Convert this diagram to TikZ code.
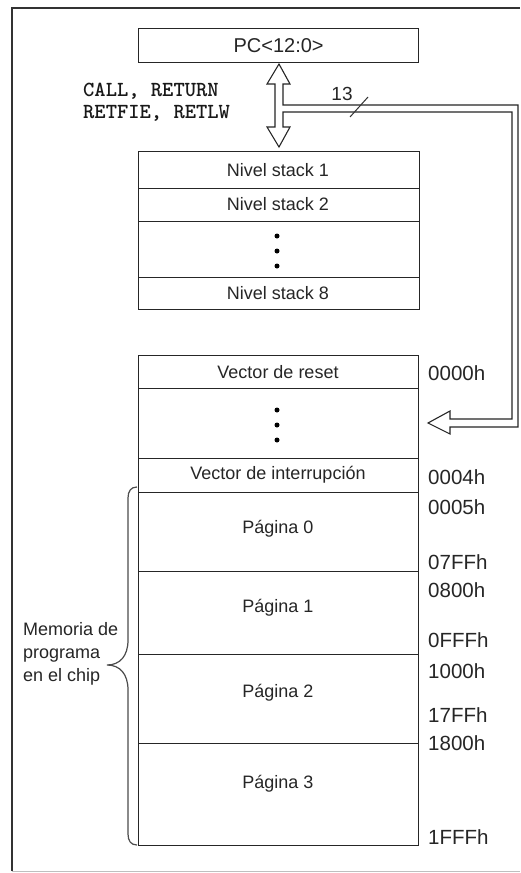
\documentclass[tikz,border=0pt]{standalone}
\usepackage{fontspec}
\setmainfont{Liberation Sans}
\begin{document}
\begin{tikzpicture}[x=1pt,y=-1pt,
  cell/.style={draw=black!85, line width=1.2pt, inner sep=0pt, anchor=north west},
  lbl/.style={text=black!85, font=\fontsize{18}{20}\selectfont, inner sep=0pt},
  addr/.style={text=black!85, font=\fontsize{20.5}{22}\selectfont, inner sep=0pt, anchor=west},
  code/.style={text=black!90, font=\ttfamily\bfseries\fontsize{21.5}{23}\selectfont, inner sep=0pt, anchor=west},
  dot/.style={fill=black, draw=none, circle, minimum size=5pt, inner sep=0pt},
  bus/.style={draw=black!85, line width=1.1pt, line join=miter}]
\useasboundingbox (0,0) rectangle (520,873);
\fill[white] (0,0) rectangle (520,873);

% outer frame
\draw[black!80, line width=1.2pt] (12,871) -- (12,8) -- (520,8);
\draw[black!25, line width=1pt] (12,871.5) -- (520,871.5);

% program counter
\node[cell, minimum width=280pt, minimum height=34pt] (pc) at (138,28) {};
\node[lbl, font=\fontsize{20}{22}\selectfont] (pct) at (pc.center) {PC<12:0>};

% stack levels
\node[cell, minimum width=281pt, minimum height=37pt] (s1) at (138,151) {};
\node[cell, minimum width=281pt, minimum height=33pt] (s2) at (138,188) {};
\node[cell, minimum width=281pt, minimum height=56pt] (s3) at (138,221) {};
\node[cell, minimum width=281pt, minimum height=32pt] (s8) at (138,277) {};
\node[lbl] (s1t) at (278,170) {Nivel stack 1};
\node[lbl] (s2t) at (278,204) {Nivel stack 2};
\node[lbl] (s8t) at (278,293) {Nivel stack 8};
\node[dot] (sd1) at (277,236) {};
\node[dot] (sd2) at (277,251) {};
\node[dot] (sd3) at (277,266) {};

% program memory
\node[cell, minimum width=280pt, minimum height=33pt] (m0) at (138,355) {};
\node[cell, minimum width=280pt, minimum height=70pt] (m1) at (138,388) {};
\node[cell, minimum width=280pt, minimum height=34pt] (m4) at (138,458) {};
\node[cell, minimum width=280pt, minimum height=79pt] (p0) at (138,492) {};
\node[cell, minimum width=280pt, minimum height=83pt] (p1) at (138,571) {};
\node[cell, minimum width=280pt, minimum height=89pt] (p2) at (138,654) {};
\node[cell, minimum width=280pt, minimum height=102pt] (p3) at (138,743) {};
\node[lbl] (m0t) at (278,372) {Vector de reset};
\node[lbl] (m4t) at (278,475) {Vector de interrupción};
\node[lbl] (p0t) at (278,529) {Página 0};
\node[lbl] (p1t) at (278,608) {Página 1};
\node[lbl] (p2t) at (278,693) {Página 2};
\node[lbl] (p3t) at (278,784) {Página 3};
\node[dot] (md1) at (277,410) {};
\node[dot] (md2) at (277,425) {};
\node[dot] (md3) at (277,440) {};

% addresses
\node[addr] (a0) at (428,373) {0000h};
\node[addr] (a4) at (428,477) {0004h};
\node[addr] (a5) at (428,507) {0005h};
\node[addr] (a7) at (428,562) {07FFh};
\node[addr] (a8) at (428,590) {0800h};
\node[addr] (af) at (428,640) {0FFFh};
\node[addr] (b0) at (428,671) {1000h};
\node[addr] (b7) at (428,715) {17FFh};
\node[addr] (b8) at (428,743) {1800h};
\node[addr] (bf) at (428,837) {1FFFh};

% instructions using the stack
\node[code] (c1) at (83,91) {CALL, RETURN};
\node[code] (c2) at (83,113) {RETFIE, RETLW};

% hollow double arrow between PC and stack, with the 13-bit bus to memory
\draw[bus]
  (279,64) -- (290,84) -- (283,84) -- (283,105) -- (518,105) -- (518,427)
  -- (450,427) -- (450,434) -- (428,423) -- (450,411) -- (450,419)
  -- (512,419) -- (512,112) -- (283,112) -- (283,127) -- (290,127)
  -- (279,147) -- (267,127) -- (275,127) -- (275,84) -- (267,84) -- cycle;
\node[text=black!85, font=\fontsize{19}{21}\selectfont, inner sep=0pt] (w13) at (342,94) {13};
\draw[black!80, line width=1pt] (350,117) -- (368,97);

% brace for the on-chip program memory
\draw[black!70, line width=1.2pt]
  (137,487) .. controls (131,487) and (128,491) .. (128,498) -- (128,640)
  .. controls (128,656) and (120,665) .. (107,665)
  .. controls (120,665) and (128,674) .. (128,690) -- (128,834)
  .. controls (128,841) and (131,845) .. (137,845);
\node[text=black!85, font=\fontsize{18}{20}\selectfont, inner sep=0pt, anchor=west, align=left] (mem) at (23,654)
  {Memoria de\\[3pt]programa\\[3pt]en el chip};
\end{tikzpicture}
\end{document}
